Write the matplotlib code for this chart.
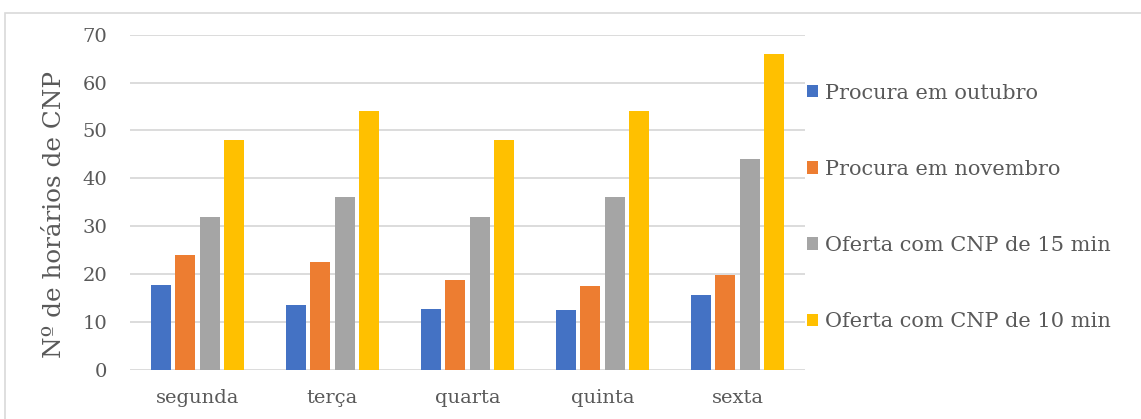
import matplotlib.pyplot as plt
import numpy as np
from matplotlib.patches import Rectangle

dias = ["segunda", "terça", "quarta", "quinta", "sexta"]
series = ["Procura em outubro", "Procura em novembro",
          "Oferta com CNP de 15 min", "Oferta com CNP de 10 min"]
procura_out = [17.7, 13.5, 12.7, 12.5, 15.6]
procura_nov = [24, 22.5, 18.7, 17.5, 19.8]
oferta_15 = [32, 36, 32, 36, 44]
oferta_10 = [48, 54, 48, 54, 66]
cores = ["#4472C4", "#ED7D31", "#A5A5A5", "#FFC000"]

plt.rcParams["font.family"] = ["DejaVu Serif"]
texto = "#595959"

W, H = 1141, 419
fig = plt.figure(figsize=(W / 100, H / 100), dpi=100)
ax = fig.add_axes([130 / W, 49.3 / H, 675 / W, 335 / H])

x = np.arange(len(dias))
largura = 0.148
passo = 0.18
valores = [procura_out, procura_nov, oferta_15, oferta_10]
for i, (v, nome, c) in enumerate(zip(valores, series, cores)):
    ax.bar(x + (i - 1.5) * passo, v, width=largura, color=c, label=nome, zorder=3)

ax.set_xlim(-0.5, len(dias) - 0.5)
ax.set_ylim(0, 70)
ax.set_yticks(range(0, 71, 10))
ax.yaxis.grid(True, color="#d9d9d9", linewidth=1.3, zorder=0)
for s in ax.spines.values():
    s.set_visible(False)
ax.tick_params(length=0, labelsize=14, colors=texto)
ax.tick_params(axis="y", pad=16.5)
ax.tick_params(axis="x", pad=14)
ax.set_xticks(x)
ax.set_xticklabels(dias)

fig.text(55 / W, 1 - 214.5 / H, "Nº de horários de CNP", rotation=90,
         ha="center", va="center", fontsize=17.7, color=texto)

leg = fig.legend(loc="center left", bbox_to_anchor=(807 / W, 1 - 207.5 / H),
                 frameon=False, fontsize=15, labelspacing=2.75,
                 handlelength=0.55, handleheight=0.55, handletextpad=0.3,
                 borderaxespad=0, borderpad=0)
for t in leg.get_texts():
    t.set_color(texto)

# moldura clara à volta do gráfico
fig.patches.append(Rectangle((5 / W, -0.1), 1.2, 1.1 - 13 / H,
                             transform=fig.transFigure, fill=False,
                             edgecolor="#d9d9d9", linewidth=1.2))

fig.savefig("out.png", dpi=100)
